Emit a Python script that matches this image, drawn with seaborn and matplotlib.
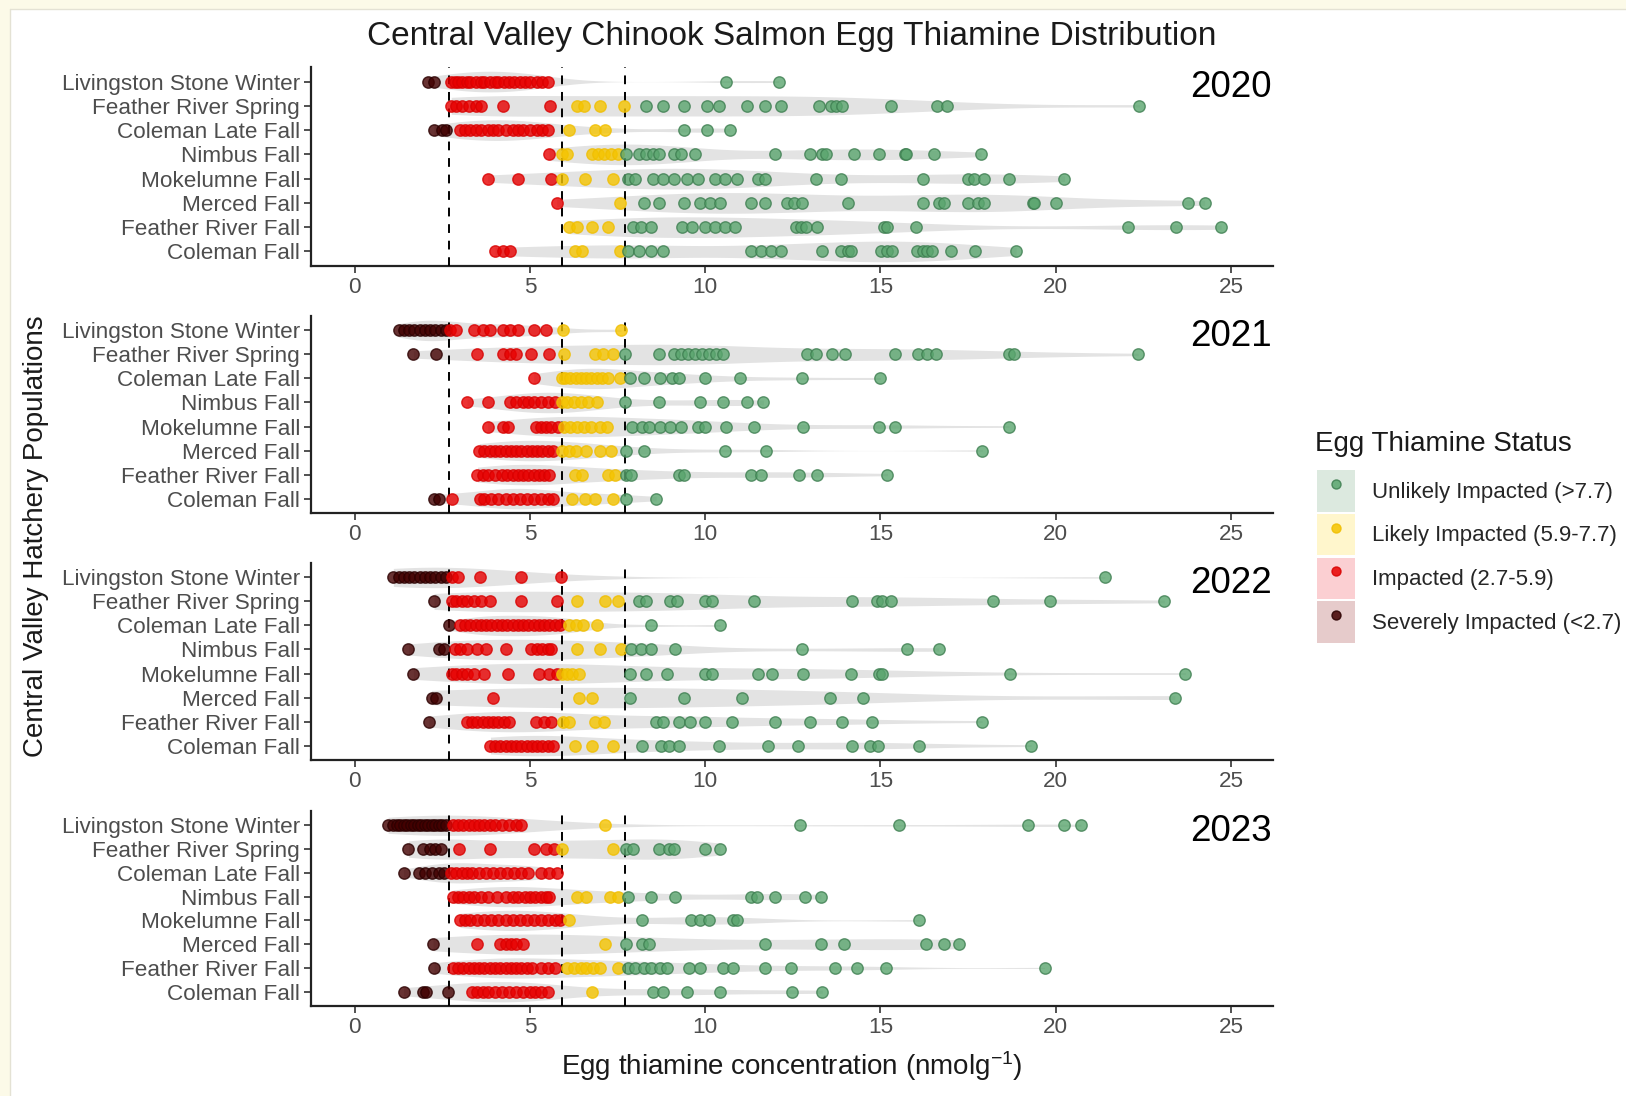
import numpy as np
import pandas as pd
import matplotlib
matplotlib.use("Agg")
import matplotlib.pyplot as plt
import seaborn as sns
from matplotlib.patches import Patch, Rectangle
from matplotlib.lines import Line2D

# ---------------- data ----------------
populations = ["Livingston Stone Winter", "Feather River Spring", "Coleman Late Fall",
               "Nimbus Fall", "Mokelumne Fall", "Merced Fall", "Feather River Fall", "Coleman Fall"]
years = ["2020", "2021", "2022", "2023"]
thresholds = [2.7, 5.9, 7.7]
status_labels = ["Unlikely Impacted (>7.7)", "Likely Impacted (5.9-7.7)",
                 "Impacted (2.7-5.9)", "Severely Impacted (<2.7)"]
x_ticks = [0, 5, 10, 15, 20, 25]

thiamine_2020 = {
    "Livingston Stone Winter": [2.1, 2.25, 2.75, 2.85, 2.95, 3.05, 3.2, 3.3, 3.45, 3.6, 3.7, 3.85, 4.0, 4.1,
                                4.25, 4.4, 4.55, 4.7, 4.85, 5.0, 5.2, 5.35, 5.5, 10.6, 12.1],
    "Feather River Spring": [2.75, 2.9, 3.05, 3.25, 3.45, 3.6, 4.22, 5.58, 6.34, 6.55, 7.0, 7.68, 8.3, 8.8,
                             9.4, 10.05, 10.4, 11.2, 11.7, 12.15, 13.25, 13.58, 13.72, 13.91, 15.3, 16.6,
                             16.9, 22.39],
    "Coleman Late Fall": [2.26, 2.48, 2.6, 3.0, 3.15, 3.3, 3.45, 3.6, 3.8, 3.95, 4.1, 4.3, 4.5, 4.65, 4.8,
                          5.0, 5.2, 5.35, 5.5, 6.12, 6.85, 7.14, 9.4, 10.05, 10.7],
    "Nimbus Fall": [5.54, 5.92, 6.05, 6.78, 6.95, 7.1, 7.3, 7.5, 7.75, 8.1, 8.3, 8.5, 8.67, 9.1, 9.3, 9.7,
                    12.0, 13.0, 13.34, 13.44, 14.25, 14.96, 15.7, 15.72, 16.53, 17.87],
    "Mokelumne Fall": [3.79, 4.66, 5.61, 5.92, 6.56, 7.36, 7.8, 8.0, 8.52, 8.8, 9.1, 9.48, 9.8, 10.28,
                       10.57, 10.9, 11.5, 11.7, 13.15, 13.87, 16.2, 17.49, 17.68, 17.96, 18.68, 20.25],
    "Merced Fall": [5.76, 7.57, 8.24, 8.67, 9.4, 9.84, 10.13, 10.42, 11.3, 11.7, 12.34, 12.53, 12.77,
                    14.06, 16.2, 16.68, 16.82, 17.49, 17.77, 17.96, 19.34, 19.39, 20.0, 23.77, 24.25],
    "Feather River Fall": [6.12, 6.34, 6.78, 7.22, 7.95, 8.17, 8.45, 9.33, 9.62, 10.0, 10.28, 10.57, 10.86,
                           12.6, 12.72, 12.87, 13.2, 15.1, 15.2, 16.0, 22.06, 23.44, 24.72],
    "Coleman Fall": [4.0, 4.22, 4.44, 6.27, 6.49, 7.57, 7.8, 8.1, 8.45, 8.8, 11.3, 11.6, 11.88, 12.15,
                     13.34, 13.87, 14.06, 14.15, 15.01, 15.2, 15.34, 16.05, 16.2, 16.34, 16.48, 17.0,
                     17.7, 18.87],
}

thiamine_2021 = {
    "Livingston Stone Winter": [1.25, 1.4, 1.55, 1.7, 1.85, 2.0, 2.15, 2.3, 2.45, 2.6, 2.72, 2.9, 3.4, 3.65,
                                3.86, 4.22, 4.44, 4.66, 5.1, 5.46, 5.95, 7.6],
    "Feather River Spring": [1.67, 2.33, 3.5, 4.22, 4.44, 4.6, 5.03, 5.54, 5.97, 6.85, 7.07, 7.36, 7.72,
                             8.67, 9.1, 9.3, 9.5, 9.7, 9.9, 10.1, 10.3, 10.5, 12.91, 13.15, 13.63, 14.0,
                             15.4, 16.06, 16.34, 16.58, 18.68, 18.82, 22.35],
    "Coleman Late Fall": [5.1, 5.92, 6.0, 6.15, 6.3, 6.45, 6.6, 6.75, 6.9, 7.05, 7.22, 7.57, 7.85, 8.25,
                          8.7, 9.05, 9.25, 10.0, 11.0, 12.75, 15.0],
    "Nimbus Fall": [3.2, 3.79, 4.44, 4.6, 4.8, 4.95, 5.1, 5.3, 5.5, 5.7, 5.92, 6.05, 6.25, 6.45, 6.65,
                    6.9, 7.72, 8.67, 9.84, 10.5, 11.2, 11.66],
    "Mokelumne Fall": [3.79, 4.22, 4.37, 5.17, 5.3, 5.45, 5.6, 5.8, 5.97, 6.15, 6.35, 6.55, 6.75, 7.0,
                       7.2, 7.9, 8.2, 8.4, 8.7, 9.0, 9.3, 9.8, 10.0, 10.6, 11.4, 12.8, 14.97, 15.4, 18.67],
    "Merced Fall": [3.55, 3.7, 3.85, 4.0, 4.15, 4.3, 4.45, 4.6, 4.75, 4.9, 5.05, 5.2, 5.35, 5.5, 5.65,
                    5.92, 6.1, 6.3, 6.6, 7.0, 7.3, 7.75, 8.24, 10.57, 11.73, 17.91],
    "Feather River Fall": [3.5, 3.65, 3.8, 4.0, 4.2, 4.35, 4.5, 4.65, 4.8, 4.95, 5.1, 5.25, 5.4, 5.55,
                           6.27, 6.49, 7.22, 7.43, 7.75, 7.87, 9.26, 9.4, 11.3, 11.6, 12.67, 13.2, 15.2],
    "Coleman Fall": [2.26, 2.4, 2.77, 3.57, 3.7, 3.9, 4.1, 4.3, 4.5, 4.7, 4.9, 5.1, 5.3, 5.5, 5.65, 6.2,
                     6.56, 6.85, 7.36, 7.75, 8.6],
}

thiamine_2022 = {
    "Livingston Stone Winter": [1.1, 1.25, 1.4, 1.55, 1.7, 1.85, 2.0, 2.15, 2.3, 2.45, 2.6, 2.77, 2.95,
                                3.57, 4.73, 5.88, 21.4],
    "Feather River Spring": [2.26, 2.77, 2.9, 3.05, 3.2, 3.4, 3.6, 3.85, 4.73, 5.76, 6.34, 7.14, 7.5, 8.1,
                             8.3, 9.0, 9.2, 10.0, 10.2, 11.4, 14.2, 14.9, 15.05, 15.3, 18.2, 19.85, 23.1],
    "Coleman Late Fall": [2.68, 3.0, 3.15, 3.3, 3.45, 3.6, 3.75, 3.9, 4.05, 4.2, 4.35, 4.5, 4.65, 4.8,
                          4.95, 5.1, 5.25, 5.4, 5.55, 5.7, 5.85, 6.1, 6.3, 6.5, 6.9, 8.45, 10.42],
    "Nimbus Fall": [1.53, 2.4, 2.55, 2.85, 3.0, 3.2, 3.5, 3.75, 4.3, 5.03, 5.2, 5.35, 5.5, 5.6, 6.34, 7.0,
                    7.6, 7.87, 8.17, 8.46, 9.14, 12.75, 15.77, 16.66],
    "Mokelumne Fall": [1.67, 2.77, 2.9, 3.05, 3.2, 3.4, 3.7, 4.37, 5.25, 5.54, 5.76, 5.92, 6.05, 6.2, 6.4,
                       7.85, 8.3, 8.9, 10.0, 10.2, 11.5, 11.9, 12.8, 14.15, 14.97, 15.05, 18.7, 23.7],
    "Merced Fall": [2.19, 2.33, 3.94, 6.41, 6.78, 7.84, 9.4, 11.04, 13.55, 14.5, 23.4],
    "Feather River Fall": [2.11, 3.2, 3.35, 3.5, 3.65, 3.8, 3.95, 4.1, 4.25, 4.4, 5.17, 5.4, 5.6, 5.95,
                           6.1, 6.85, 7.1, 8.6, 8.8, 9.25, 9.56, 10.0, 10.75, 12.0, 13.0, 13.9, 14.75, 17.9],
    "Coleman Fall": [3.87, 4.0, 4.15, 4.3, 4.45, 4.6, 4.75, 4.9, 5.05, 5.2, 5.35, 5.5, 5.65, 6.27, 6.78,
                     7.36, 8.2, 8.75, 8.96, 9.26, 10.4, 11.8, 12.66, 14.2, 14.7, 14.93, 16.1, 19.3],
}

thiamine_2023 = {
    "Livingston Stone Winter": [0.95, 1.1, 1.2, 1.3, 1.4, 1.5, 1.6, 1.7, 1.8, 1.9, 2.0, 2.1, 2.2, 2.3, 2.4,
                                2.5, 2.6, 2.8, 2.95, 3.1, 3.25, 3.4, 3.55, 3.7, 3.85, 4.0, 4.2, 4.4, 4.6,
                                4.75, 7.14, 12.7, 15.53, 19.2, 20.23, 20.72],
    "Feather River Spring": [1.53, 1.95, 2.15, 2.3, 2.45, 2.98, 3.86, 5.1, 5.46, 5.68, 5.92, 7.36, 7.73,
                             7.95, 8.67, 8.96, 9.1, 10.0, 10.42],
    "Coleman Late Fall": [1.39, 1.82, 2.0, 2.2, 2.4, 2.55, 2.75, 2.9, 3.05, 3.2, 3.35, 3.55, 3.75, 3.95,
                          4.15, 4.35, 4.55, 4.75, 4.95, 5.3, 5.55, 5.76],
    "Nimbus Fall": [2.8, 2.95, 3.1, 3.25, 3.4, 3.6, 3.8, 4.05, 4.3, 4.5, 4.65, 4.85, 5.0, 5.15, 5.3, 5.45,
                    5.55, 6.34, 6.6, 7.29, 7.5, 7.8, 8.46, 9.14, 11.3, 11.48, 12.0, 12.85, 13.3],
    "Mokelumne Fall": [3.0, 3.15, 3.3, 3.5, 3.7, 3.9, 4.1, 4.3, 4.5, 4.7, 4.9, 5.1, 5.3, 5.5, 5.7, 5.85,
                       6.12, 8.2, 9.6, 9.85, 10.1, 10.8, 10.9, 16.1],
    "Merced Fall": [2.23, 3.5, 4.15, 4.3, 4.45, 4.6, 4.8, 7.14, 7.73, 8.2, 8.4, 11.7, 13.3, 13.95, 16.3,
                    16.8, 17.25],
    "Feather River Fall": [2.26, 2.8, 2.95, 3.1, 3.25, 3.4, 3.55, 3.7, 3.85, 4.0, 4.15, 4.3, 4.45, 4.6,
                           4.75, 4.9, 5.05, 5.3, 5.5, 5.7, 6.05, 6.25, 6.45, 6.6, 6.8, 7.0, 7.5, 7.8, 8.0,
                           8.25, 8.45, 8.7, 8.9, 9.55, 9.85, 10.5, 10.8, 11.7, 12.45, 13.7, 14.34, 15.15,
                           19.68],
    "Coleman Fall": [1.39, 1.94, 2.04, 2.65, 3.35, 3.5, 3.65, 3.8, 4.0, 4.2, 4.4, 4.6, 4.8, 5.0, 5.15, 5.3,
                     5.5, 6.78, 8.52, 8.8, 9.48, 10.42, 12.48, 13.34],
}

year_data = {"2020": thiamine_2020, "2021": thiamine_2021, "2022": thiamine_2022, "2023": thiamine_2023}

# ---------------- styling ----------------
point_fill = {status_labels[0]: "#5AA56E", status_labels[1]: "#F5C400",
              status_labels[2]: "#E80000", status_labels[3]: "#420000"}
point_edge = {status_labels[0]: "#3D7E50", status_labels[1]: "#F0BE00",
              status_labels[2]: "#D80000", status_labels[3]: "#2A0000"}
key_bg = {status_labels[0]: "#DCE9DF", status_labels[1]: "#FFF6CC",
          status_labels[2]: "#FBCFD2", status_labels[3]: "#E6CBCB"}


def classify(v):
    if v < thresholds[0]:
        return status_labels[3]
    if v < thresholds[1]:
        return status_labels[2]
    if v < thresholds[2]:
        return status_labels[1]
    return status_labels[0]


rows = []
for yr in years:
    for pop in populations:
        for v in year_data[yr][pop]:
            rows.append({"year": yr, "population": pop, "value": v, "status": classify(v)})
df = pd.DataFrame(rows)

sns.set_theme(style="ticks")
plt.rcParams["font.family"] = ["Liberation Sans", "DejaVu Sans"]
plt.rcParams["mathtext.fontset"] = "custom"
plt.rcParams["mathtext.rm"] = "Liberation Sans"
plt.rcParams["mathtext.it"] = "Liberation Sans:italic"

W, H = 1626, 1096
fig = plt.figure(figsize=(W / 100, H / 100), dpi=100)
fig.patch.set_facecolor("white")

ax_left = 311 / W
ax_width = (1273 - 311) / W
panel_px = [(67, 266), (316, 513), (563, 760), (811, 1006)]

for i, yr in enumerate(years):
    top, bot = panel_px[i]
    ax = fig.add_axes([ax_left, 1 - bot / H, ax_width, (bot - top) / H])
    sub = df[df["year"] == yr]
    sns.violinplot(data=sub, x="value", y="population", order=populations, orient="h",
                   color="#E3E3E3", inner=None, cut=0, density_norm="width", width=0.85,
                   linewidth=0, saturation=1, bw_adjust=0.8, ax=ax)
    for coll in ax.collections:
        coll.set_zorder(1)
    for t in thresholds:
        ax.axvline(t, color="black", ls=(0, (4.5, 4)), lw=1.4, zorder=3)
    for s in status_labels[::-1]:
        part = sub[sub["status"] == s]
        if len(part) == 0:
            continue
        sns.stripplot(data=part, x="value", y="population", order=populations, orient="h",
                      color=point_fill[s], edgecolor=point_edge[s], linewidth=1.0, size=8.2,
                      alpha=0.8, jitter=False, ax=ax, zorder=4)
    ax.set_xlim(-1.25, 26.2)
    ax.set_ylim(7.6, -0.6)
    ax.set_xticks(x_ticks)
    ax.set_xticklabels([str(t) for t in x_ticks])
    ax.set_xlabel("")
    ax.set_ylabel("")
    ax.set_facecolor("white")
    for side in ["top", "right"]:
        ax.spines[side].set_visible(False)
    for side in ["left", "bottom"]:
        ax.spines[side].set_linewidth(1.6)
        ax.spines[side].set_color("#222222")
    ax.tick_params(axis="both", colors="#333333", labelcolor="#4D4D4D", length=5, width=1.2,
                   labelsize=16.2, pad=3)
    ax.text(0.999, 0.985, yr, transform=ax.transAxes, ha="right", va="top", fontsize=26.5,
            color="black")

fig.text(792 / W, 1 - 36 / H, "Central Valley Chinook Salmon Egg Thiamine Distribution",
         ha="center", va="center", fontsize=24, color="#1a1a1a")
fig.text(792 / W, 1 - 1066 / H, r"Egg thiamine concentration (nmolg$^{-1}$)",
         ha="center", va="center", fontsize=20, color="#1a1a1a")
fig.text(36 / W, 1 - 536 / H, "Central Valley Hatchery Populations", rotation=90,
         ha="center", va="center", fontsize=20, color="#1a1a1a")

# legend title placed separately, legend body below it
fig.text(1315 / W, 1 - 444 / H, "Egg Thiamine Status", ha="left", va="center",
         fontsize=20, color="#1a1a1a")
handles = []
for s in status_labels:
    handles.append((Patch(facecolor=key_bg[s], edgecolor="none"),
                    Line2D([], [], marker="o", ls="", ms=6.5, markerfacecolor=point_fill[s],
                           markeredgecolor=point_edge[s], alpha=0.85)))
leg = fig.legend(handles=handles, labels=status_labels,
                 loc="upper left", bbox_to_anchor=(1317 / W, 1 - 470 / H), frameon=False,
                 fontsize=16, handlelength=1.73, handleheight=2.5,
                 labelspacing=0.1, handletextpad=0.75, borderaxespad=0, borderpad=0)

# cream strip along the top and left edges of the picture
fig.patches.append(Rectangle((0, 1 - 9 / H), 1, 9 / H, transform=fig.transFigure,
                             facecolor="#FCFAE8", edgecolor="none", zorder=10))
fig.patches.append(Rectangle((0, 0), 10 / W, 1, transform=fig.transFigure,
                             facecolor="#FCFAE8", edgecolor="none", zorder=10))
fig.lines.append(Line2D([10 / W, 1], [1 - 9 / H, 1 - 9 / H], transform=fig.transFigure,
                        color="#E4E2D4", lw=1, zorder=11))
fig.lines.append(Line2D([10 / W, 10 / W], [0, 1 - 9 / H], transform=fig.transFigure,
                        color="#E4E2D4", lw=1, zorder=11))

fig.savefig("out.png", dpi=100, facecolor="white")
